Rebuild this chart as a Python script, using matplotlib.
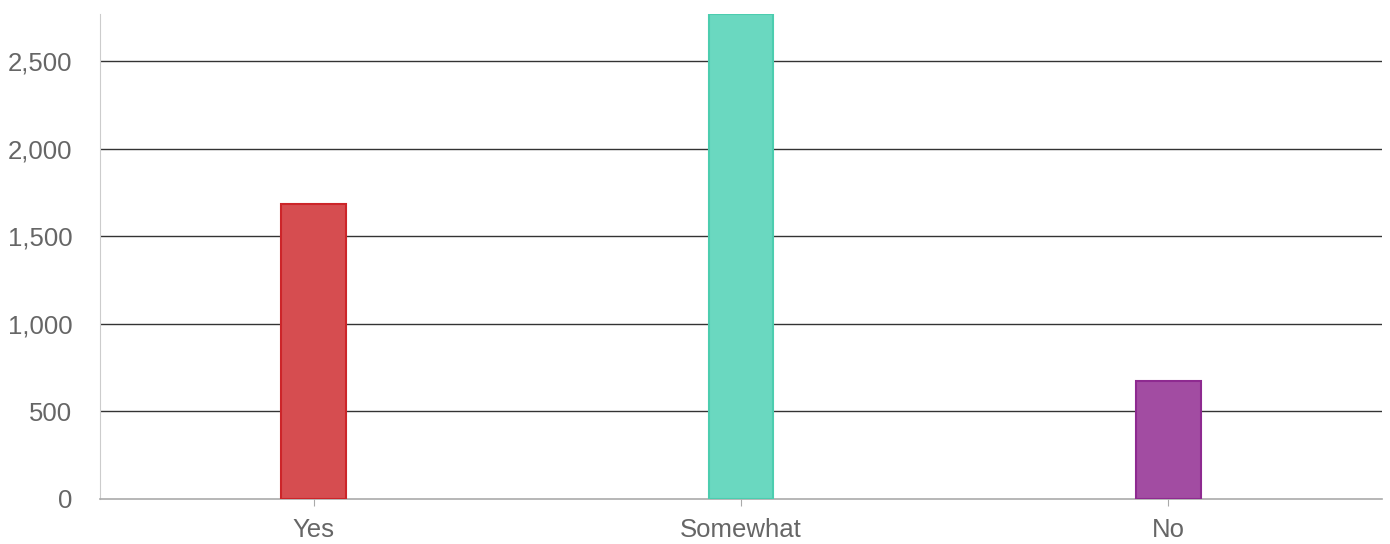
import matplotlib
matplotlib.use("Agg")
import matplotlib.pyplot as plt
from matplotlib.ticker import FuncFormatter

categories = ["Yes", "Somewhat", "No"]
values = [1684, 2768, 673]
fill_colors = ["#d64d50", "#6ad8c0", "#a24ca2"]
edge_colors = ["#cc2529", "#4ccdaf", "#8e2a90"]

plt.rcParams['font.family'] = ['Liberation Sans', 'DejaVu Sans']

fig = plt.figure(figsize=(13.9, 5.44), dpi=100)
ax = fig.add_axes([100 / 1390, 45 / 544, 1282 / 1390, 485 / 544])

x = range(len(categories))
ax.bar(x, values, width=0.152, color=fill_colors, edgecolor=edge_colors,
       linewidth=1.5, zorder=3)

ax.set_xlim(-0.5, 2.5)
ax.set_ylim(0, 2768)
ax.set_yticks([0, 500, 1000, 1500, 2000, 2500])
ax.yaxis.set_major_formatter(FuncFormatter(lambda v, p: f"{int(v):,}"))
ax.set_xticks(list(x))
ax.set_xticklabels(categories)

# gridlines
for v in [500, 1000, 1500, 2000, 2500]:
    ax.axhline(v, color="#333333", linewidth=1, zorder=2)

for s in ["top", "right"]:
    ax.spines[s].set_visible(False)
ax.spines["left"].set_color("#cccccc")
ax.spines["bottom"].set_color("#aaaaaa")
ax.spines["bottom"].set_linewidth(1.2)

ax.tick_params(axis="y", length=0, labelsize=18.5, labelcolor="#666666", pad=20)
ax.tick_params(axis="x", length=5, color="#aaaaaa", labelsize=18.5,
               labelcolor="#666666", pad=9)

fig.savefig("out.png", dpi=100)
